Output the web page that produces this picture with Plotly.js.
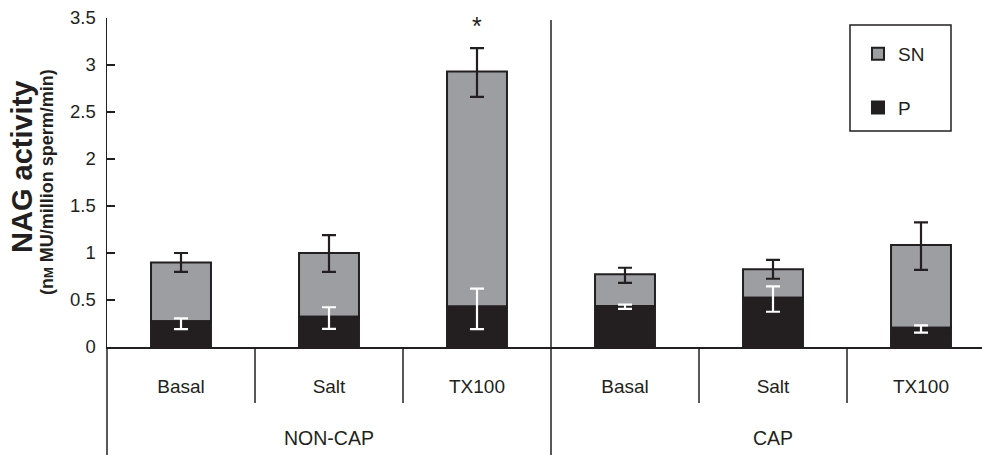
<!DOCTYPE html>
<html>
<head>
<meta charset="utf-8">
<script src="https://cdn.plot.ly/plotly-3.0.1.min.js"></script>
<style>html,body{margin:0;padding:0;background:#fff;}#chart{width:982px;height:455px;}</style>
</head>
<body>
<div id="chart"></div>
<script>
// Data
const subCategories = ["Basal", "Salt", "TX100", "Basal", "Salt", "TX100"];
const groups = ["NON-CAP", "CAP"];
const pValues = [0.275, 0.323, 0.43, 0.436, 0.525, 0.205];
const pErrPlus = [0.03, 0.10, 0.19, 0.014, 0.12, 0.025];
const pErrMinus = [0.085, 0.13, 0.24, 0.03, 0.15, 0.053];
const snValues = [0.625, 0.677, 2.50, 0.337, 0.301, 0.88];
const snErrPlus = [0.10, 0.19, 0.25, 0.07, 0.10, 0.24];
const snErrMinus = [0.10, 0.20, 0.27, 0.09, 0.10, 0.265];
const yTicks = [0, 0.5, 1, 1.5, 2, 2.5, 3, 3.5];

const xIdx = subCategories.map((_, i) => i);
const dark = '#231f20';
const font = 'Liberation Sans, Arial, Helvetica, sans-serif';

const W = 982, H = 455;
const mL = 107, mR = 0, mT = 18, mB = 108;
const plotW = W - mL - mR, plotH = H - mT - mB;
const catPx = 148;
const xRange = [-0.5, -0.5 + plotW / catPx];
const xPaper = v => (v - xRange[0]) / (xRange[1] - xRange[0]);
const pxY = py => (H - mB - py) / plotH;   // pixel row -> paper y
const pxX = px => (px - mL) / plotW;       // pixel col -> paper x

const snTrace = {
  type: 'bar', name: 'SN', x: xIdx, y: snValues, base: pValues,
  width: 0.405,
  marker: {color: '#9d9ea2', line: {color: dark, width: 2}},
  error_y: {type: 'data', symmetric: false, array: snErrPlus, arrayminus: snErrMinus,
            color: dark, thickness: 2.2, width: 7},
  legendgroup: 'sn', hoverinfo: 'skip'
};
const pTrace = {
  type: 'bar', name: 'P', x: xIdx, y: pValues,
  width: 0.405,
  marker: {color: dark, line: {color: dark, width: 2}},
  error_y: {type: 'data', symmetric: false, array: pErrPlus, arrayminus: pErrMinus,
            color: '#ffffff', thickness: 2.2, width: 7},
  legendgroup: 'p', hoverinfo: 'skip'
};

const shapes = [];
// y axis line extended below plot
shapes.push({type: 'line', xref: 'paper', yref: 'paper', x0: 0, x1: 0, y0: 0, y1: -mB / plotH,
             line: {color: dark, width: 1.5}});
// short category separators
[0.5, 1.5, 3.5, 4.5].forEach(v => shapes.push({type: 'line', xref: 'paper', yref: 'paper',
  x0: xPaper(v), x1: xPaper(v), y0: 0, y1: pxY(403), line: {color: dark, width: 1.5}}));
// group separator
shapes.push({type: 'line', xref: 'paper', yref: 'paper', x0: xPaper(2.5), x1: xPaper(2.5),
  y0: pxY(20), y1: -mB / plotH, line: {color: dark, width: 1.5}});
// legend frame
shapes.push({type: 'rect', xref: 'paper', yref: 'paper', x0: pxX(850), x1: pxX(951),
  y0: pxY(131), y1: pxY(25), line: {color: dark, width: 1.5}, fillcolor: 'rgba(0,0,0,0)'});

const annotations = [
  {xref: 'x', yref: 'paper', x: 1, y: pxY(438), text: groups[0], showarrow: false,
   font: {family: font, size: 19.5, color: dark}, xanchor: 'center', yanchor: 'middle'},
  {xref: 'x', yref: 'paper', x: 4, y: pxY(438), text: groups[1], showarrow: false,
   font: {family: font, size: 19.5, color: dark}, xanchor: 'center', yanchor: 'middle'},
  {xref: 'x', yref: 'y', x: 2, y: 3.41, text: '*', showarrow: false,
   font: {family: font, size: 25, color: dark}, xanchor: 'center', yanchor: 'middle'},
  {xref: 'paper', yref: 'paper', x: pxX(22), y: pxY(167), text: '<b>NAG activity</b>', textangle: -90,
   showarrow: false, font: {family: font, size: 29, color: dark}, xanchor: 'center', yanchor: 'middle'},
  {xref: 'paper', yref: 'paper', x: pxX(47), y: pxY(182),
   text: '<b>(n<span style="font-size:13px">M</span> MU/million sperm/min)</b>', textangle: -90,
   showarrow: false, font: {family: font, size: 18, color: dark}, xanchor: 'center', yanchor: 'middle'}
];

const layout = {
  width: W, height: H,
  margin: {l: mL, r: mR, t: mT, b: mB, pad: 0},
  paper_bgcolor: '#ffffff', plot_bgcolor: '#ffffff',
  barmode: 'overlay',
  showlegend: true,
  legend: {x: pxX(858), y: pxY(35), xanchor: 'left', yanchor: 'top', bgcolor: 'rgba(0,0,0,0)',
           borderwidth: 0, font: {family: font, size: 19, color: dark}, tracegroupgap: 26,
           traceorder: 'grouped'},
  xaxis: {range: xRange, tickvals: xIdx, ticktext: subCategories, ticks: '', showgrid: false,
          zeroline: false, showline: true, linecolor: dark, linewidth: 1.5,
          tickfont: {family: font, size: 19, color: dark}, ticklabelstandoff: 22, fixedrange: true},
  yaxis: {range: [0, 3.5], tickvals: yTicks, ticktext: yTicks.map(String), ticks: 'inside', ticklen: 8,
          tickwidth: 1.5, tickcolor: dark, showgrid: false, zeroline: false, showline: true,
          linecolor: dark, linewidth: 1.5, tickfont: {family: font, size: 18.5, color: dark},
          ticklabelstandoff: 6, fixedrange: true},
  shapes: shapes,
  annotations: annotations,
  font: {family: font, color: dark}
};

Plotly.newPlot('chart', [snTrace, pTrace], layout, {displayModeBar: false, staticPlot: true});
</script>
</body>
</html>
